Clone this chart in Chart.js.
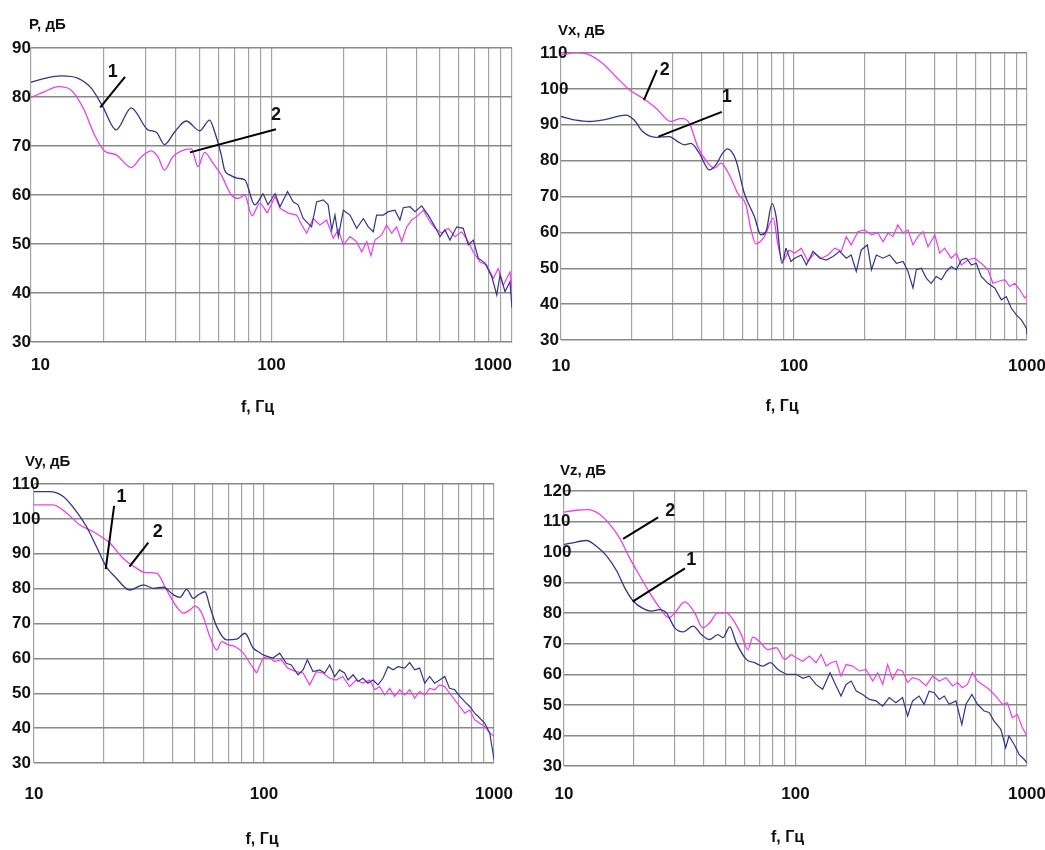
<!DOCTYPE html>
<html>
<head>
<meta charset="utf-8">
<script src="https://cdn.jsdelivr.net/npm/chart.js@4.4.1/dist/chart.umd.min.js"></script>
<style>
  html, body { margin: 0; padding: 0; background: #ffffff; }
  body { width: 1045px; height: 850px; position: relative; overflow: hidden; }
  canvas { position: absolute; }
</style>
</head>
<body>
<canvas id="c1" width="522" height="425" style="left:0px;top:0px"></canvas>
<canvas id="c2" width="523" height="425" style="left:522px;top:0px"></canvas>
<canvas id="c3" width="522" height="425" style="left:0px;top:425px"></canvas>
<canvas id="c4" width="523" height="425" style="left:522px;top:425px"></canvas>
<script>
// ---------- shared axis data ----------
const xGridTicks = [10, 20, 30, 40, 50, 60, 70, 80, 90, 100, 200, 300, 400, 500, 600, 700, 800, 900, 1000];
const xLabelValues = [10, 100, 1000];
const xLabelTexts = ['10', '100', '1000'];
const xTitle = 'f, Гц';

// ---------- panel 1 : P ----------
const p1Title = 'P, дБ';
const p1YTicks = [30, 40, 50, 60, 70, 80, 90];
const p1F1 = [10, 11.4, 13.4, 15.7, 17.8, 19.9, 22.6, 26.1, 30.6, 33.2, 35.9, 39.6, 44.2, 50.3, 55.3, 58, 61.8, 63.8, 67, 72.6, 77.4, 85.2, 92.2, 96.7, 103.5, 108.5, 116.6, 123, 129, 135.5, 146.8, 154, 164, 172, 178, 183.6, 189.6, 199, 212, 226, 241, 252.6, 265, 273.5, 291.6, 306, 326, 342, 353, 376.5, 395, 421, 448.5, 478.6, 502, 526, 552, 589, 627, 658, 690, 724, 772, 824, 864, 892, 935, 981, 1000];
const p1V1 = [83.0, 83.8, 84.3, 83.8, 81.8, 78.0, 73.3, 77.8, 73.3, 72.8, 70.3, 72.9, 75.1, 73.1, 75.3, 72.9, 68.2, 65.1, 64.1, 63.4, 63.1, 58.0, 60.3, 58.0, 60.3, 57.6, 60.7, 58.6, 58.0, 55.2, 53.5, 58.6, 59.0, 58.0, 52.9, 55.9, 51.5, 56.9, 55.9, 53.2, 55.2, 53.5, 52.5, 55.9, 55.9, 56.6, 56.9, 54.9, 57.4, 57.6, 56.6, 57.8, 55.9, 53.5, 51.5, 52.9, 50.8, 53.5, 53.2, 49.8, 50.8, 47.1, 46.1, 43.3, 39.6, 43.7, 40.3, 42.3, 37.0];
const p1F2 = [10, 11.4, 13, 14.7, 16.5, 18.4, 20.2, 22.6, 26.1, 28.8, 31.6, 33.7, 35.9, 38.9, 46.4, 49.5, 52.7, 57.1, 61.8, 68.1, 72.6, 77.4, 83, 89.3, 96, 103.5, 108.5, 117.4, 127.3, 133.5, 140, 149, 159, 169.5, 180.7, 189.6, 199, 212, 226, 237, 249, 259, 269, 287, 301, 316, 331, 348, 365, 383, 402, 428, 456, 478.6, 511, 543, 580, 618, 658, 690, 736, 785, 836, 877, 920, 981, 1000];
const p1V2 = [79.9, 81.1, 82.1, 81.4, 77.7, 72.2, 69.0, 68.2, 65.6, 67.8, 69.0, 67.8, 65.1, 67.8, 69.4, 65.8, 68.7, 66.5, 64.1, 60.0, 59.3, 60.0, 55.8, 58.3, 56.3, 59.7, 57.3, 56.3, 55.9, 53.9, 52.2, 55.2, 53.9, 54.9, 51.2, 52.9, 49.8, 51.5, 50.5, 48.4, 50.5, 47.6, 50.8, 51.8, 53.9, 52.2, 53.5, 50.5, 53.5, 54.9, 55.6, 56.9, 54.5, 53.2, 52.2, 53.2, 51.5, 52.5, 50.5, 48.4, 46.3, 45.7, 43.0, 45.0, 41.6, 44.3, 41.0];
const p1Leaders = [
  { text: '1', from: [19.4, 77.9], to: [24.6, 84.1], at: [21.9, 85.1] },
  { text: '2', from: [45.8, 68.7], to: [104.4, 73.4], at: [104.4, 76.3] }
];

// ---------- panel 2 : Vx ----------
const p2Title = 'Vx, дБ';
const p2YTicks = [30, 40, 50, 60, 70, 80, 90, 100, 110];
const p2F1 = [10, 11.6, 13.2, 15.6, 19.0, 20.6, 22.4, 25.6, 29.2, 31.7, 33.8, 36.1, 39.2, 43.3, 46.2, 49.4, 51.9, 56.3, 61.2, 67.6, 72.1, 75.8, 80.5, 83.8, 88.8, 92.4, 97, 100.7, 107.5, 113, 120.7, 129, 137.6, 147, 157, 167.6, 176, 185, 194.4, 206.5, 215, 225.7, 241, 257.5, 275, 294, 308.5, 324, 335, 352, 370, 388, 408, 429, 451, 473, 497.5, 522.6, 549.5, 577, 606, 636, 680, 727, 776, 815, 856, 900, 946, 994, 1000];
const p2V1 = [92.3, 91.3, 90.9, 91.5, 92.7, 91.3, 88.1, 86.5, 86.7, 85.3, 84.4, 84.8, 82.1, 77.4, 78.8, 82.1, 83.3, 80.2, 70.9, 64.4, 59.3, 60.2, 68.0, 64.4, 51.4, 55.6, 51.9, 52.8, 53.7, 50.9, 54.7, 52.8, 52.3, 53.3, 54.7, 52.8, 53.7, 49.1, 55.1, 56.5, 49.6, 53.7, 52.8, 53.7, 51.4, 51.9, 49.1, 44.5, 49.6, 50.0, 47.2, 45.8, 47.7, 46.8, 49.1, 50.5, 49.6, 52.3, 52.8, 50.9, 51.4, 47.7, 45.8, 44.5, 41.2, 42.1, 38.9, 37.0, 35.6, 33.3, 31.5];
const p2F2 = [10, 11.6, 13, 15.1, 17.2, 19.7, 22.8, 25.6, 29.6, 32.7, 35.6, 38.6, 42.7, 45.5, 48.6, 52.8, 57.3, 62.2, 65.4, 68.7, 74.6, 81.5, 85.1, 89.4, 95.4, 100.7, 107.5, 114.8, 122.6, 131, 140, 149.5, 159.6, 167.6, 176, 188, 201, 215, 229, 241, 253, 266, 279, 294, 308.5, 324, 340, 358, 376, 402, 422, 443, 473, 497.5, 522.6, 558, 596, 636, 680, 714, 751, 802, 843, 886, 931, 977, 1000];
const p2V2 = [109.4, 110.1, 109.7, 107.1, 103.4, 99.7, 97.1, 94.6, 90.9, 91.8, 90.4, 83.9, 79.3, 77.9, 79.3, 76.0, 70.9, 67.7, 60.7, 56.8, 58.8, 64.0, 57.0, 52.1, 55.1, 54.2, 55.6, 51.9, 54.2, 52.8, 53.7, 55.6, 54.7, 58.8, 56.5, 60.2, 60.7, 59.3, 59.9, 57.4, 59.8, 58.8, 62.1, 59.8, 60.7, 56.5, 58.8, 60.2, 56.0, 59.3, 54.2, 55.6, 52.8, 54.2, 50.9, 52.3, 52.8, 51.4, 49.6, 45.8, 46.3, 46.8, 44.9, 45.8, 44.0, 41.7, 42.5];
const p2Leaders = [
  { text: '2', from: [22.7, 96.9], to: [25.8, 105.3], at: [27.9, 105.3] },
  { text: '1', from: [26.2, 86.7], to: [49.0, 93.6], at: [51.4, 97.8] }
];

// ---------- panel 3 : Vy ----------
const p3Title = 'Vy, дБ';
const p3YTicks = [30, 40, 50, 60, 70, 80, 90, 100, 110];
const p3F1 = [10, 11.7, 13.4, 15.3, 16.9, 18.7, 20.7, 22.5, 26.1, 29.9, 33.0, 36.5, 40.4, 43.1, 46.1, 49.3, 51.8, 55.4, 58.2, 62.3, 68.8, 76.1, 82.6, 89.8, 94.2, 99.1, 104, 109.3, 117, 125, 131.5, 140.6, 147.9, 154.3, 163.3, 174.6, 183.6, 193, 203, 213, 224, 232, 244, 256.5, 269, 283, 298, 313, 329, 346, 364, 383, 409, 430, 452, 475, 500, 525, 552, 580, 611, 641, 675, 710, 746, 784, 824, 867, 912, 958, 1000];
const p3V1 = [107.8, 107.8, 106.4, 102.1, 97.8, 92.0, 86.1, 83.4, 79.6, 81.1, 80.1, 80.4, 78.2, 77.5, 79.8, 77.2, 78.2, 79.1, 74.8, 69.1, 65.3, 65.5, 67.2, 62.9, 62.0, 61.0, 60.5, 60.1, 61.5, 58.6, 58.1, 55.3, 56.7, 59.6, 56.2, 56.7, 55.8, 58.1, 54.8, 56.7, 55.8, 53.8, 55.3, 53.4, 54.3, 52.9, 53.8, 52.4, 54.3, 57.6, 56.7, 57.6, 57.2, 58.8, 56.7, 57.2, 52.9, 54.8, 52.9, 53.8, 54.8, 51.4, 51.0, 49.1, 47.6, 46.2, 44.3, 42.9, 41.4, 38.6, 31.0];
const p3F2 = [10, 12.1, 13.9, 15.8, 18.1, 21.4, 24.4, 28.0, 30.4, 34.2, 37.7, 41.7, 44.6, 47.7, 50.1, 53.6, 58.2, 62.3, 65.5, 70, 74.8, 81.3, 86.9, 92.9, 99.1, 104, 111, 119, 127, 138, 147.9, 158, 168.8, 180.5, 193, 206, 220, 235.5, 251.6, 269, 288, 303, 318.5, 335, 352, 370, 389, 409, 430, 452, 475, 500, 525, 552, 580, 611, 641, 675, 710, 746, 784, 824, 867, 912, 958, 1000];
const p3V2 = [104.0, 104.0, 101.6, 98.3, 96.3, 93.0, 88.7, 85.8, 84.6, 84.4, 79.6, 74.8, 73.0, 73.9, 75.0, 73.0, 66.2, 62.4, 64.8, 63.9, 63.4, 61.5, 58.6, 55.8, 60.1, 60.5, 59.1, 59.6, 57.2, 56.2, 55.8, 52.4, 56.2, 55.8, 54.3, 53.8, 54.8, 51.9, 53.8, 52.9, 53.8, 51.0, 51.9, 49.5, 51.4, 49.1, 51.0, 49.5, 51.0, 48.6, 50.5, 49.5, 51.4, 51.0, 52.4, 51.9, 50.0, 48.1, 46.2, 44.3, 45.2, 42.4, 41.4, 40.5, 38.6, 37.7];
const p3Leaders = [
  { text: '1', from: [20.5, 85.6], to: [22.3, 103.7], at: [24.0, 106.4] },
  { text: '2', from: [26.0, 86.3], to: [31.4, 93.2], at: [34.5, 96.3] }
];

// ---------- panel 4 : Vz ----------
const p4Title = 'Vz, дБ';
const p4YTicks = [30, 40, 50, 60, 70, 80, 90, 100, 110, 120];
const p4F1 = [10, 11.3, 12.5, 13.8, 15.3, 16.9, 18.3, 19.9, 22.0, 23.9, 25.9, 27.7, 30.1, 32.7, 36.1, 39.2, 42.6, 46.2, 48.6, 52, 55.5, 61.3, 66.6, 72.3, 77.8, 83.9, 91.2, 100.7, 107.5, 114.8, 122.6, 131, 141, 149.8, 157.3, 165.4, 174, 183, 195, 208.5, 223, 238, 254, 271.5, 290, 305, 320.5, 342, 359.5, 378, 397, 418, 439, 461, 493, 523, 545, 578, 611, 653, 686, 721, 771, 809, 836, 879, 924, 971, 1000];
const p4V1 = [102.5, 103.3, 103.8, 101.9, 98.7, 93.8, 88.3, 84.0, 81.5, 80.7, 81.2, 80.1, 75.2, 73.9, 75.8, 73.0, 71.4, 73.0, 72.0, 75.5, 70.3, 64.9, 63.8, 62.7, 63.8, 61.6, 60.0, 60.0, 58.7, 59.4, 56.7, 55.1, 60.5, 56.2, 52.9, 56.7, 57.8, 54.5, 53.4, 51.8, 51.3, 49.6, 52.4, 50.7, 52.4, 46.4, 51.3, 52.9, 50.2, 54.5, 54.0, 51.8, 52.9, 50.2, 51.3, 43.6, 50.2, 53.4, 50.2, 48.0, 47.5, 44.7, 42.0, 36.0, 39.8, 37.1, 33.8, 32.2, 31.0];
const p4F2 = [10, 11.3, 12.7, 14.3, 15.8, 17.4, 19.2, 21.3, 23.5, 25.9, 28.4, 30.1, 33.3, 36.7, 39.8, 42.6, 46.2, 50.2, 53.7, 58.3, 62.3, 65.4, 70, 76, 82.6, 89.8, 95.8, 100.7, 107.5, 114.8, 122.6, 129, 135.6, 142.5, 149.8, 157.3, 165.4, 176.6, 188.6, 201.6, 215.5, 226.5, 238, 250, 262.5, 276, 290, 305, 320.5, 342, 366, 391, 418, 446.5, 477, 501, 526, 553, 581, 611, 641, 686, 733, 783, 823, 864, 908, 955, 1000];
const p4V2 = [113.1, 113.7, 113.9, 112.3, 109.0, 104.6, 98.1, 92.1, 86.6, 81.8, 78.5, 80.1, 83.7, 80.1, 75.2, 76.9, 80.1, 80.1, 77.9, 73.0, 68.1, 72.2, 70.7, 68.1, 68.7, 64.9, 66.5, 65.4, 64.3, 66.0, 63.8, 66.5, 62.7, 63.8, 64.3, 59.4, 63.2, 62.7, 61.1, 61.6, 57.8, 60.5, 56.7, 63.2, 58.3, 61.6, 61.1, 57.3, 58.9, 58.3, 56.2, 59.4, 57.8, 58.9, 56.2, 57.3, 55.6, 56.7, 60.5, 57.8, 56.7, 55.1, 52.9, 50.2, 50.7, 45.8, 46.9, 42.5, 39.8];
const p4Leaders = [
  { text: '2', from: [18.0, 104.3], to: [25.5, 111.4], at: [28.8, 113.6] },
  { text: '1', from: [19.8, 83.8], to: [33.3, 94.7], at: [35.5, 97.5] }
];

// ---------- styling ----------
const COLOR1 = '#35358c';
const COLOR2 = '#f03cf0';
const FONT = '"Liberation Sans", Arial, sans-serif';
const SMOOTH_UNTIL = 90; // curves are drawn smooth below this frequency, point-to-point above

const textPlugin = {
  id: 'panelText',
  afterDatasetsDraw(chart, args, opts) {
    const { ctx, chartArea, scales } = chart;
    ctx.save();
    ctx.fillStyle = '#111';
    ctx.textBaseline = 'middle';
    ctx.textAlign = 'left';
    ctx.font = 'bold 15px ' + FONT;
    ctx.fillText(opts.yTitle, chartArea.left + opts.yDx, chartArea.top + opts.yDy);
    ctx.textAlign = 'center';
    ctx.font = 'bold 16px ' + FONT;
    ctx.fillText(xTitle, (chartArea.left + chartArea.right) / 2 + opts.xDx, chartArea.bottom + opts.xDy);
    ctx.font = 'bold 18px ' + FONT;
    for (const l of opts.leaders) {
      ctx.fillText(l.text, scales.x.getPixelForValue(l.at[0]), scales.y.getPixelForValue(l.at[1]));
    }
    ctx.restore();
  }
};

function zip(fs, vs) { return fs.map((f, i) => ({ x: f, y: vs[i] })); }

function seriesDatasets(fs, vs, color, order) {
  const pts = zip(fs, vs);
  const cut = pts.findIndex(p => p.x >= SMOOTH_UNTIL);
  return [
    { data: pts.slice(0, cut + 1), borderColor: color, borderWidth: 1.3, pointRadius: 0,
      cubicInterpolationMode: 'monotone', order },
    { data: pts.slice(cut), borderColor: color, borderWidth: 1.2, pointRadius: 0,
      tension: 0, order }
  ];
}

function makePanel(id, p) {
  const datasets = [];
  p.leaders.forEach(l => datasets.push({
    data: [{ x: l.from[0], y: l.from[1] }, { x: l.to[0], y: l.to[1] }],
    borderColor: '#000', borderWidth: 2, pointRadius: 0, tension: 0, order: -1
  }));
  datasets.push(...seriesDatasets(p.f1, p.v1, COLOR1, 0));
  datasets.push(...seriesDatasets(p.f2, p.v2, COLOR2, 1));

  new Chart(document.getElementById(id), {
    type: 'line',
    data: { datasets },
    plugins: [textPlugin],
    options: {
      responsive: false,
      animation: false,
      devicePixelRatio: 1,
      layout: { padding: p.pad },
      plugins: {
        legend: { display: false },
        tooltip: { enabled: false },
        panelText: { yTitle: p.title, yDx: p.yDx, yDy: p.yDy, xDx: p.xDx, xDy: p.xDy, leaders: p.leaders }
      },
      scales: {
        x: {
          type: 'logarithmic',
          min: 10, max: 1000,
          afterBuildTicks: s => { s.ticks = xGridTicks.map(v => ({ value: v, major: xLabelValues.includes(v) })); },
          afterFit: s => { s.height = p.xH; s.paddingLeft = 0; s.paddingRight = 0; },
          grid: { color: '#a3a3a3', lineWidth: 1.2, drawTicks: false },
          border: { display: false },
          ticks: {
            autoSkip: false, maxRotation: 0, padding: p.xPad, color: '#111', align: p.xAlign,
            font: { family: FONT, size: 17, weight: 'bold' },
            callback: v => { const i = xLabelValues.indexOf(v); return i >= 0 ? xLabelTexts[i] : ''; }
          }
        },
        y: {
          type: 'linear',
          min: p.yTicks[0], max: p.yTicks[p.yTicks.length - 1],
          afterBuildTicks: s => { s.ticks = p.yTicks.map(v => ({ value: v })); },
          afterFit: s => { s.width = p.yW; s.paddingTop = 0; s.paddingBottom = 0; },
          grid: { color: '#888888', lineWidth: 1.5, drawTicks: false },
          border: { display: false },
          ticks: {
            mirror: true, padding: -p.yW, color: '#111',
            font: { family: FONT, size: 17, weight: 'bold' },
            callback: v => String(v)
          }
        }
      }
    }
  });
}

makePanel('c1', { title: p1Title, yTicks: p1YTicks, f1: p1F1, v1: p1V1, f2: p1F2, v2: p1V2, leaders: p1Leaders,
  pad: { left: 12, top: 48, right: 10, bottom: 0 }, yW: 19, xH: 83, xPad: 13, xAlign: 'inner',
  yDx: -2, yDy: -23, xDx: -14, xDy: 66 });
makePanel('c2', { title: p2Title, yTicks: p2YTicks, f1: p2F1, v1: p2V1, f2: p2F2, v2: p2V2, leaders: p2Leaders,
  pad: { left: 18, top: 53, right: 18, bottom: 0 }, yW: 21, xH: 85, xPad: 16, xAlign: 'center',
  yDx: -3, yDy: -22, xDx: -12, xDy: 67 });
makePanel('c3', { title: p3Title, yTicks: p3YTicks, f1: p3F1, v1: p3V1, f2: p3F2, v2: p3V2, leaders: p3Leaders,
  pad: { left: 12, top: 59, right: 28, bottom: 0 }, yW: 22, xH: 87, xPad: 21, xAlign: 'center',
  yDx: -9, yDy: -22, xDx: -2, xDy: 77 });
makePanel('c4', { title: p4Title, yTicks: p4YTicks, f1: p4F1, v1: p4V1, f2: p4F2, v2: p4V2, leaders: p4Leaders,
  pad: { left: 21, top: 66, right: 18, bottom: 0 }, yW: 21, xH: 84, xPad: 18, xAlign: 'center',
  yDx: -4, yDy: -20, xDx: -8, xDy: 72 });
</script>
</body>
</html>
